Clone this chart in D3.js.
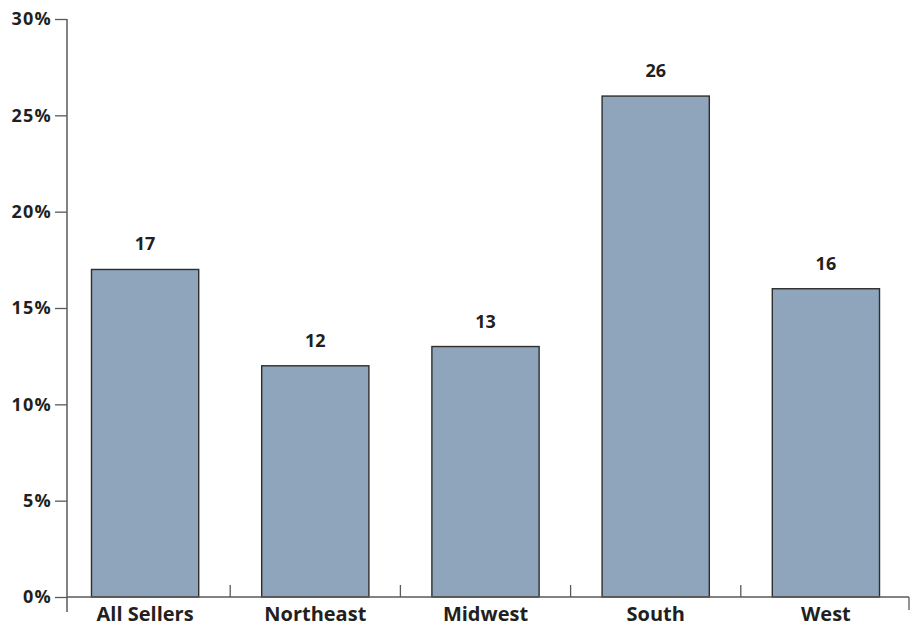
<!DOCTYPE html>
<html>
<head>
<meta charset="utf-8">
<script src="https://cdn.jsdelivr.net/npm/d3@7"></script>
<style>
  html, body { margin: 0; padding: 0; background: #fff; }
  svg text { font-family: "Open Sans", "Noto Sans", sans-serif; font-weight: 700; fill: #231f20; }
</style>
</head>
<body>
<svg id="chart" width="917" height="626"></svg>
<script>
// Share of sellers by region (percent)
const regions = ["All Sellers", "Northeast", "Midwest", "South", "West"];
const shares = [17, 12, 13, 26, 16];
const yTicks = [0, 5, 10, 15, 20, 25, 30];

const svg = d3.select("#chart");
const axisColor = "#5a5a5a";

const x = d3.scaleBand()
  .domain(regions)
  .range([60, 911])
  .paddingInner(0.37)
  .paddingOuter(0.185);

const y = d3.scaleLinear()
  .domain([0, 30])
  .range([597, 19]);

// Bars
svg.append("g")
  .selectAll("rect")
  .data(regions)
  .join("rect")
  .attr("x", d => x(d))
  .attr("y", (d, i) => y(shares[i]))
  .attr("width", x.bandwidth())
  .attr("height", (d, i) => y(0) - y(shares[i]))
  .attr("fill", "#8ea5bb")
  .attr("stroke", "#2e2e2e")
  .attr("stroke-width", 1.4);

// Value labels
svg.append("g")
  .selectAll("text")
  .data(regions)
  .join("text")
  .attr("x", d => x(d) + x.bandwidth() / 2)
  .attr("y", (d, i) => y(shares[i]) - 19)
  .attr("text-anchor", "middle")
  .attr("font-size", 18)
  .text((d, i) => shares[i]);

// Y axis
const yAxis = d3.axisLeft(y)
  .tickValues(yTicks)
  .tickSize(12)
  .tickPadding(3)
  .tickFormat(d => d + "%");

const gy = svg.append("g")
  .attr("transform", "translate(67,0)")
  .call(yAxis);
gy.select(".domain").remove();
gy.selectAll(".tick line").attr("stroke", axisColor).attr("stroke-width", 1.3);
gy.selectAll(".tick text")
  .attr("font-size", 18)
  .attr("letter-spacing", 1.2)
  .attr("font-family", "\"Open Sans\", \"Noto Sans\", sans-serif")
  .attr("font-weight", 700)
  .attr("fill", "#231f20");

svg.append("line")
  .attr("x1", 67).attr("x2", 67)
  .attr("y1", y(30)).attr("y2", 612)
  .attr("stroke", axisColor).attr("stroke-width", 1.5);

// X axis baseline
svg.append("line")
  .attr("x1", 67).attr("x2", 909)
  .attr("y1", y(0)).attr("y2", y(0))
  .attr("stroke", axisColor).attr("stroke-width", 1.5);

// Separators between categories
const step = x.step();
const bounds = regions.slice(1).map(d => x(d) - (step - x.bandwidth()) / 2);
svg.append("g")
  .selectAll("line")
  .data(bounds)
  .join("line")
  .attr("x1", d => d).attr("x2", d => d)
  .attr("y1", y(0) - 12).attr("y2", y(0))
  .attr("stroke", axisColor).attr("stroke-width", 1.3);

// Right end tick
svg.append("line")
  .attr("x1", 909).attr("x2", 909)
  .attr("y1", y(0)).attr("y2", 610)
  .attr("stroke", axisColor).attr("stroke-width", 1.3);

// Category labels
svg.append("g")
  .selectAll("text")
  .data(regions)
  .join("text")
  .attr("x", d => x(d) + x.bandwidth() / 2)
  .attr("y", 621)
  .attr("text-anchor", "middle")
  .attr("font-size", 20)
  .text(d => d);
</script>
</body>
</html>
